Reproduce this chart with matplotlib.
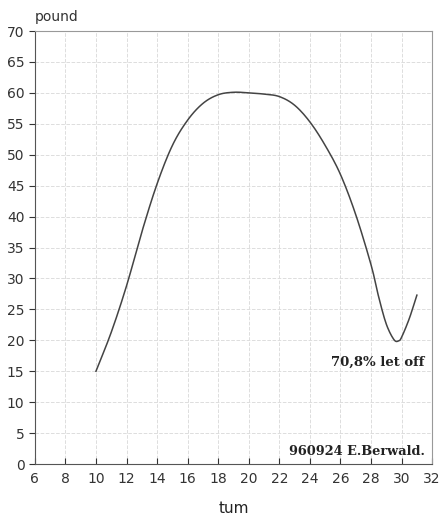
import numpy as np
import matplotlib.pyplot as plt

# draw length (tum) vs. draw weight (pound)
tum = [10, 11, 12, 13, 14, 15, 16, 17, 18, 19, 20, 21, 22, 23, 24, 25, 26, 27, 28, 28.5, 29, 29.5, 29.8, 30, 30.5, 31]
pound = [15, 21.3, 28.8, 37.5, 45.3, 51.5, 55.6, 58.3, 59.7, 60.1, 60.0, 59.8, 59.4, 58.0, 55.3, 51.5, 46.8, 40.3, 32.2, 27.0, 22.6, 20.1, 19.9, 20.5, 23.5, 27.3]

xticks = list(range(6, 33, 2))
yticks = list(range(0, 71, 5))


def smooth(x, y, n=12):
    # catmull-rom through the measured points, just to draw a rounder line
    x = np.asarray(x, float)
    y = np.asarray(y, float)
    px = np.concatenate([[2 * x[0] - x[1]], x, [2 * x[-1] - x[-2]]])
    py = np.concatenate([[2 * y[0] - y[1]], y, [2 * y[-1] - y[-2]]])
    t = np.linspace(0, 1, n, endpoint=False)[:, None]
    out_x, out_y = [], []
    for i in range(1, len(px) - 2):
        for p, o in ((px, out_x), (py, out_y)):
            p0, p1, p2, p3 = p[i - 1], p[i], p[i + 1], p[i + 2]
            seg = 0.5 * (2 * p1 + (-p0 + p2) * t + (2 * p0 - 5 * p1 + 4 * p2 - p3) * t ** 2
                         + (-p0 + 3 * p1 - 3 * p2 + p3) * t ** 3)
            o.extend(seg.ravel())
    out_x.append(x[-1])
    out_y.append(y[-1])
    return out_x, out_y


fig = plt.figure(figsize=(4.41, 5.17), dpi=100)
ax = fig.add_axes([0.079, 0.1025, 0.901, 0.8375])

sx, sy = smooth(tum, pound)
ax.plot(sx, sy, color='#444444', lw=1.1)

ax.set_xlim(6, 32)
ax.set_ylim(0, 70)
ax.set_xticks(xticks)
ax.set_yticks(yticks)
ax.grid(True, color='#dddddd', ls='--', lw=0.7)
ax.tick_params(axis='x', direction='in', length=4, labelsize=10, colors='#333333', pad=6)
ax.tick_params(axis='y', direction='out', length=4, labelsize=10, colors='#333333')
for s in ax.spines.values():
    s.set_color('#555555')
    s.set_linewidth(0.8)
ax.spines['top'].set_color('#999999')
ax.spines['right'].set_color('#999999')

ax.text(31.5, 16.5, '70,8% let off', ha='right', va='center', fontsize=9.5,
        fontweight='bold', family='DejaVu Serif', color='#222222')
ax.text(31.5, 2.0, '960924 E.Berwald.', ha='right', va='center', fontsize=9.3,
        fontweight='bold', family='DejaVu Serif', color='#222222')

fig.text(0.079, 0.967, 'pound', ha='left', va='center', fontsize=10, color='#333333')
fig.text(0.53, 0.017, 'tum', ha='center', va='center', fontsize=11, color='#222222')

fig.savefig('out.png', dpi=100)
